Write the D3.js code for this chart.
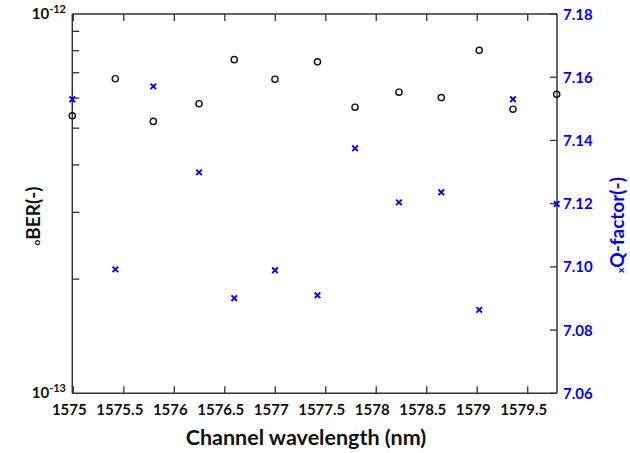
<!DOCTYPE html>
<html><head><meta charset="utf-8">
<script src="https://cdn.jsdelivr.net/npm/d3@7"></script>
<style>body{margin:0;background:#fff}svg{display:block}text{font-family:Lato,"Open Sans",sans-serif;font-weight:bold}</style>
</head><body>
<script>
const wavelength = [1574.99, 1575.416, 1575.792, 1576.245, 1576.594, 1576.997, 1577.418, 1577.79, 1578.225, 1578.644, 1579.02, 1579.354, 1579.787];
const ber = [5.39e-13, 6.75e-13, 5.21e-13, 5.80e-13, 7.58e-13, 6.73e-13, 7.48e-13, 5.68e-13, 6.22e-13, 6.02e-13, 8.02e-13, 5.61e-13, 6.14e-13];
const qfactor = [7.153, 7.0992, 7.1571, 7.1299, 7.0901, 7.0989, 7.091, 7.1375, 7.1204, 7.1236, 7.0864, 7.153, 7.1199];
const xTicks = [1575, 1575.5, 1576, 1576.5, 1577, 1577.5, 1578, 1578.5, 1579, 1579.5];
const qTicks = [7.06, 7.08, 7.10, 7.12, 7.14, 7.16, 7.18];
const berMinor = [2e-13, 3e-13, 4e-13, 5e-13, 6e-13, 7e-13, 8e-13, 9e-13];

const W = 630, H = 453;
const L = 72.3, R = 557, T = 14, B = 393.3;
const svg = d3.select("body").append("svg").attr("width", W).attr("height", H);

const x = d3.scaleLinear().domain([1574.99, 1579.79]).range([L, R]);
const yL = d3.scaleLog().domain([1e-13, 1e-12]).range([B, T]);
const yR = d3.scaleLinear().domain([7.06, 7.18]).range([B, T]);
const axisColor = "#333";
const blue = "#0000ff";

const g = svg.append("g");
g.append("line").attr("x1", L).attr("x2", L).attr("y1", T).attr("y2", B).attr("stroke", axisColor).attr("stroke-width", 1.5);
g.append("line").attr("x1", L).attr("x2", R).attr("y1", B).attr("y2", B).attr("stroke", axisColor).attr("stroke-width", 1.5);
g.append("line").attr("x1", L).attr("x2", R).attr("y1", T).attr("y2", T).attr("stroke", axisColor).attr("stroke-width", 1.5);
g.append("line").attr("x1", R).attr("x2", R).attr("y1", T).attr("y2", B).attr("stroke", axisColor).attr("stroke-width", 1.5);

xTicks.forEach(v => {
  g.append("line").attr("x1", x(v)).attr("x2", x(v)).attr("y1", B).attr("y2", B - 7).attr("stroke", axisColor).attr("stroke-width", 1.3);
  g.append("line").attr("x1", x(v)).attr("x2", x(v)).attr("y1", T).attr("y2", T + 7).attr("stroke", axisColor).attr("stroke-width", 1.3);
  g.append("text").attr("x", x(v) - 4).attr("y", 415).attr("text-anchor", "middle").attr("font-size", 15).attr("fill", "#111").text(v);
});

berMinor.forEach(v => {
  g.append("line").attr("x1", L).attr("x2", L + 7).attr("y1", yL(v)).attr("y2", yL(v)).attr("stroke", axisColor).attr("stroke-width", 1.3);
});
[[1e-12, "-12"], [1e-13, "-13"]].forEach(([v, e]) => {
  const t = g.append("text").attr("x", 66).attr("y", yL(v) + 5).attr("text-anchor", "end").attr("font-size", 15).attr("fill", "#111");
  t.append("tspan").text("10");
  t.append("tspan").attr("dy", -6).attr("font-size", 11).text(e);
});

qTicks.forEach(v => {
  g.append("line").attr("x1", R).attr("x2", R - 7).attr("y1", yR(v)).attr("y2", yR(v)).attr("stroke", axisColor).attr("stroke-width", 1.3);
  g.append("text").attr("x", 563).attr("y", yR(v) + 5.5).attr("font-size", 15).attr("fill", blue).text(d3.format(".2f")(v));
});

svg.append("g").selectAll("circle").data(wavelength).join("circle")
  .attr("cx", d => x(d)).attr("cy", (d, i) => yL(ber[i])).attr("r", 3.1)
  .attr("fill", "none").attr("stroke", "#111").attr("stroke-width", 1.4);

const s = 2.8;
svg.append("g").selectAll("path").data(wavelength).join("path")
  .attr("d", (d, i) => {
    const cx = x(d), cy = yR(qfactor[i]);
    return `M${cx - s},${cy - s}L${cx + s},${cy + s}M${cx - s},${cy + s}L${cx + s},${cy - s}`;
  })
  .attr("stroke", blue).attr("stroke-width", 1.9).attr("fill", "none");

svg.append("text").attr("x", 306).attr("y", 445).attr("text-anchor", "middle").attr("font-size", 21.5).attr("fill", "#111").text("Channel wavelength (nm)");

const lt = svg.append("text").attr("transform", "translate(40,216) rotate(-90)").attr("text-anchor", "middle").attr("fill", "#111");
lt.append("tspan").attr("font-size", 10).text("o");
lt.append("tspan").attr("font-size", 19).text("BER(-)");

const rt = svg.append("text").attr("transform", "translate(624,225) rotate(-90)").attr("text-anchor", "middle").attr("fill", blue);
rt.append("tspan").attr("font-size", 10).text("x");
rt.append("tspan").attr("font-size", 19).text("Q-factor(-)");
</script>
</body></html>
